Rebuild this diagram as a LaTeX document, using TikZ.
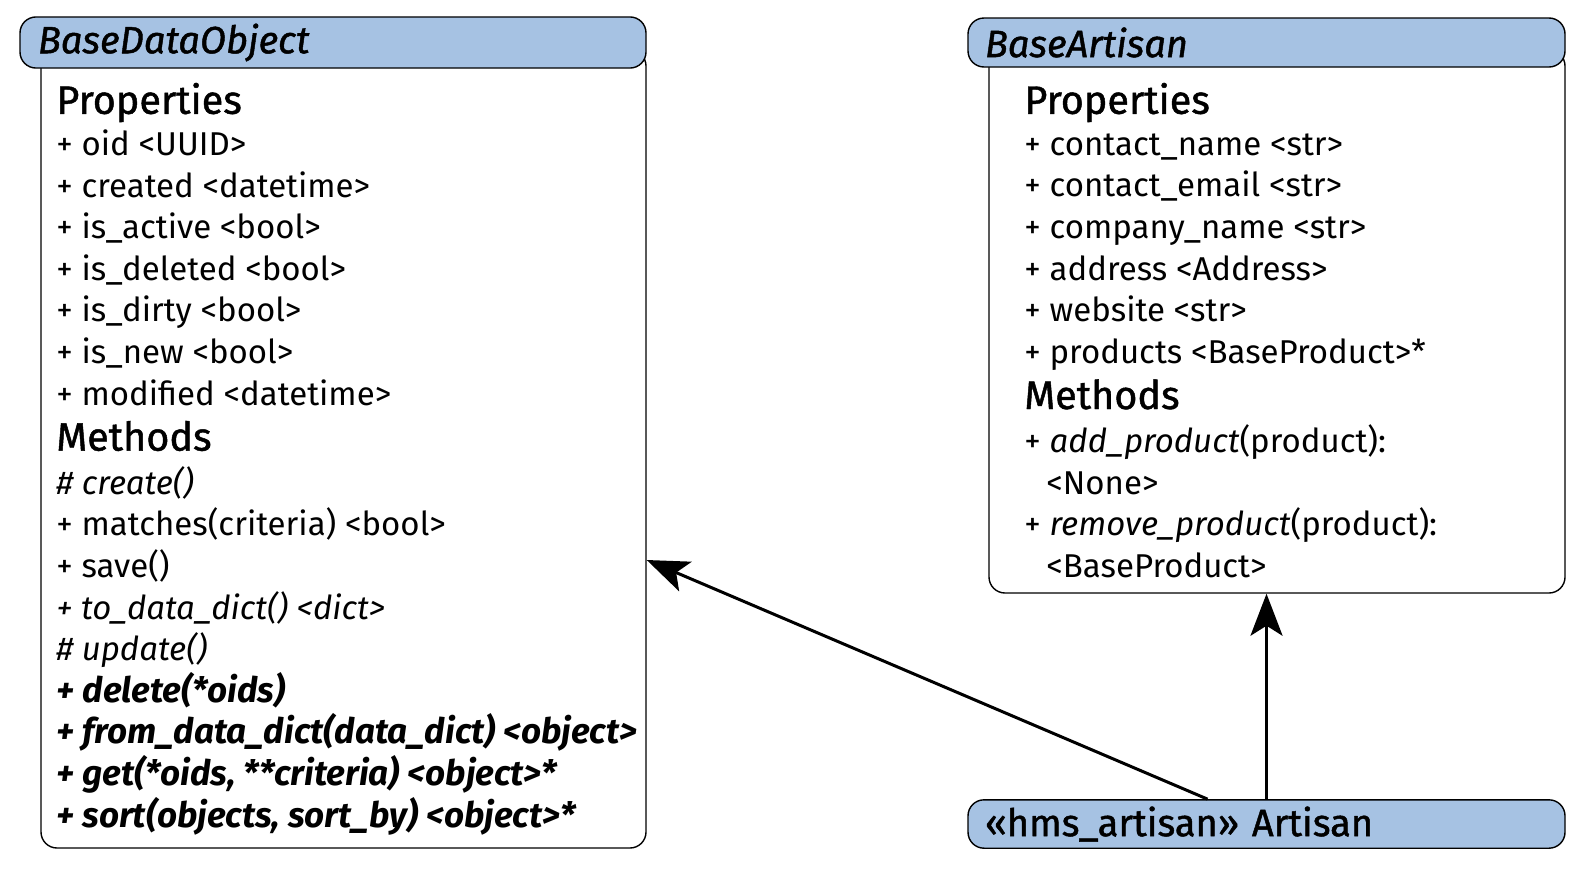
\documentclass[tikz,border=0pt]{standalone}
\usepackage{fontspec}
\setmainfont{Fira Sans}
\newfontfamily\medfont{Fira Sans}[FakeBold=1.2]
\usetikzlibrary{arrows.meta}
\definecolor{hdrblue}{RGB}{166,194,227}
\tikzset{
  hdr/.style={draw,fill=hdrblue,rounded corners=8pt,line width=0.7pt,align=left,font=\fontsize{19}{20.8}\medfont\itshape},
  bodybox/.style={draw,fill=white,rounded corners=8pt,line width=0.7pt},
  members/.style={anchor=north west,inner sep=0pt,align=left,font=\fontsize{16.5}{20.8}\selectfont},
  inherit/.style={-{Stealth[length=21pt,width=16pt,inset=5pt]},line width=1.5pt},
}
\newcommand{\compart}[1]{{\fontsize{19.8}{20.8}\medfont #1}}
\newcommand{\clsmeth}[1]{{\fontsize{17.5}{20.8}\selectfont\bfseries\itshape #1}}
\newcommand{\retind}{\hspace*{11pt}}
\begin{document}
\begin{tikzpicture}[x=0.5pt,y=-0.5pt]
\useasboundingbox (0,0) rectangle (1593,868);
% BaseDataObject
\node at (343.5,449) [bodybox,minimum width=302.5pt,minimum height=399pt] (bdobody) {};
\node at (333,42.5) [hdr,minimum height=24.5pt,inner xsep=9pt,text width=295pt] (bdo) {BaseDataObject};
\node at (56,82.5) [members] (bdomembers) {\compart{Properties}\\
+ oid <UUID>\\
+ created <datetime>\\
+ is\_active <bool>\\
+ is\_deleted <bool>\\
+ is\_dirty <bool>\\
+ is\_new <bool>\\
+ modified <datetime>\\[2pt]
\compart{Methods}\\[1pt]
\textit{\# create()}\\
+ matches(criteria) <bool>\\
+ save()\\
\textit{+ to\_data\_dict() <dict>}\\
\textit{\# update()}\\
\clsmeth{+ delete(*oids)}\\
\clsmeth{+ from\_data\_dict(data\_dict) <object>}\\
\clsmeth{+ get(*oids, **criteria) <object>*}\\
\clsmeth{+ sort(objects, sort\_by) <object>*}};
% BaseArtisan
\node at (1277,321.5) [bodybox,minimum width=288pt,minimum height=271.5pt] (bartbody) {};
\node at (1266.5,42.5) [hdr,minimum height=24.5pt,inner xsep=8.5pt,text width=281.5pt] (bart) {BaseArtisan};
\node at (1024,82.5) [members] (bartmembers) {\compart{Properties}\\
+ contact\_name <str>\\
+ contact\_email <str>\\
+ company\_name <str>\\
+ address <Address>\\
+ website <str>\\
+ products <BaseProduct>*\\[2pt]
\compart{Methods}\\[1pt]
+ \textit{add\_product}(product):\\
\retind<None>\\
+ \textit{remove\_product}(product):\\
\retind<BaseProduct>};
% Artisan
\node at (1266.5,824) [hdr,font=\fontsize{19}{20.8}\medfont,minimum height=24pt,inner xsep=8.5pt,text width=281.5pt] (artisan) {«hms\_artisan» Artisan};
\draw[inherit] ([xshift=-29.5pt]artisan.north) -- ([yshift=-55.5pt]bdobody.east);
\draw[inherit] (artisan.north) -- (artisan.north |- bartbody.south);
\end{tikzpicture}
\end{document}
